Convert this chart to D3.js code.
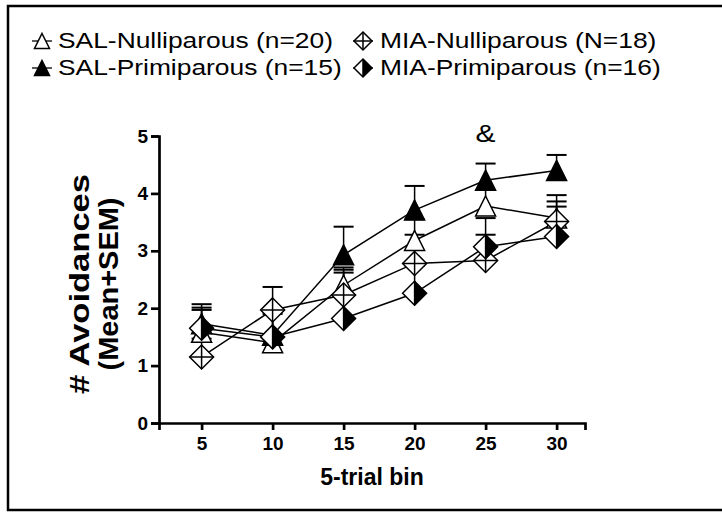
<!DOCTYPE html>
<html>
<head>
<meta charset="utf-8">
<script src="https://cdn.jsdelivr.net/npm/d3@7"></script>
<style>
  body { margin: 0; background: #fff; }
  svg { display: block; font-family: "Liberation Sans", Arial, sans-serif; }
</style>
</head>
<body>
<script>
// 5-trial bins and group means / SEM
const bins = [5, 10, 15, 20, 25, 30];

const salNulliMean = [1.58, 1.40, 2.40, 3.18, 3.78, 3.57];
const salNulliSem  = [0.43, 0.54, 0.31, 0.37, 0.28, 0.40];
const salPrimiMean = [1.73, 1.53, 2.93, 3.71, 4.23, 4.40];
const salPrimiSem  = [0.34, 0.45, 0.49, 0.42, 0.29, 0.27];
const miaNulliMean = [1.15, 1.97, 2.23, 2.78, 2.83, 3.51];
const miaNulliSem  = [0.32, 0.40, 0.44, 0.50, 0.45, 0.35];
const miaPrimiMean = [1.65, 1.50, 1.82, 2.26, 3.07, 3.25];
const miaPrimiSem  = [0.32, 0.40, 0.80, 0.48, 0.50, 0.52];

const seriesNames = ['SAL-Nulliparous (n=20)', 'SAL-Primiparous (n=15)',
                     'MIA-Nulliparous (N=18)', 'MIA-Primiparous (n=16)'];
const yTicks = [0, 1, 2, 3, 4, 5];

const width = 722;
const height = 512;

const series = [
    { name: seriesNames[0], mean: salNulliMean, sem: salNulliSem, shape: 'triOpen' },
    { name: seriesNames[1], mean: salPrimiMean, sem: salPrimiSem, shape: 'triFilled' },
    { name: seriesNames[2], mean: miaNulliMean, sem: miaNulliSem, shape: 'diaCross' },
    { name: seriesNames[3], mean: miaPrimiMean, sem: miaPrimiSem, shape: 'diaHalf' }
];

const x = d3.scaleLinear().domain([2, 32]).range([159, 585]);
const y = d3.scaleLinear().domain([0, 5]).range([423, 136]);

const svg = d3.select('body')
    .append('svg')
    .attr('width', width)
    .attr('height', height);

// outer frame
svg.append('rect')
    .attr('x', 8)
    .attr('y', 6)
    .attr('width', 730)
    .attr('height', 504)
    .attr('fill', 'none')
    .attr('stroke', '#000')
    .attr('stroke-width', 2.5);

// draws one marker into group g, scaled by s
function marker(g, shape, s) {
    const t = 10 * s, d = 12 * s;
    if (shape === 'triOpen' || shape === 'triFilled') {
        g.append('path')
            .attr('d', `M0,${-t}L${t},${t}L${-t},${t}Z`)
            .attr('fill', shape === 'triFilled' ? '#000' : '#fff')
            .attr('stroke', '#000')
            .attr('stroke-width', 1.5);
    } else {
        g.append('path')
            .attr('d', `M0,${-d}L${d},0L0,${d}L${-d},0Z`)
            .attr('fill', '#fff')
            .attr('stroke', '#000')
            .attr('stroke-width', 1.5);
        if (shape === 'diaHalf') {
            g.append('path')
                .attr('d', `M0,${-d}L${d},0L0,${d}Z`)
                .attr('fill', '#000');
            g.append('path')
                .attr('d', `M0,${-d}V${d}`)
                .attr('stroke', '#000')
                .attr('stroke-width', 1.5);
        } else {
            g.append('path')
                .attr('d', `M0,${-d}V${d}M${-d},0H${d}`)
                .attr('stroke', '#000')
                .attr('stroke-width', 1.5);
        }
    }
}

const line = d3.line()
    .x((d) => x(d[0]))
    .y((d) => y(d[1]));

// connecting lines
series.forEach((s) => {
    svg.append('path')
        .datum(bins.map((b, i) => [b, s.mean[i]]))
        .attr('d', line)
        .attr('fill', 'none')
        .attr('stroke', '#000')
        .attr('stroke-width', 1.5);
});

// error bars (mean + SEM)
series.forEach((s) => {
    const eb = svg.append('g');
    bins.forEach((b, i) => {
        const top = y(s.mean[i] + s.sem[i]);
        eb.append('line')
            .attr('x1', x(b)).attr('x2', x(b))
            .attr('y1', y(s.mean[i])).attr('y2', top)
            .attr('stroke', '#000').attr('stroke-width', 1.5);
        eb.append('line')
            .attr('x1', x(b) - 10).attr('x2', x(b) + 10)
            .attr('y1', top).attr('y2', top)
            .attr('stroke', '#000').attr('stroke-width', 2);
    });
});

// markers
series.forEach((s) => {
    bins.forEach((b, i) => {
        const g = svg.append('g')
            .attr('transform', `translate(${x(b)},${y(s.mean[i])})`);
        marker(g, s.shape, 1);
    });
});

// axes
const xAxis = d3.axisBottom(x)
    .tickValues(bins)
    .tickSizeOuter(0)
    .tickSize(7)
    .tickPadding(7);

const yAxis = d3.axisLeft(y)
    .tickValues(yTicks)
    .tickFormat(d3.format('d'))
    .tickSizeOuter(0)
    .tickSize(8)
    .tickPadding(3);

const gx = svg.append('g')
    .attr('transform', 'translate(0,423)')
    .call(xAxis);

const gy = svg.append('g')
    .attr('transform', 'translate(159,0)')
    .call(yAxis);

[gx, gy].forEach((g) => {
    g.select('.domain').attr('stroke-width', 2.7);
    g.selectAll('.tick line').attr('stroke-width', 2.7);
    g.selectAll('.tick text')
        .attr('font-family', '"Liberation Sans", Arial, sans-serif')
        .attr('font-size', 19)
        .attr('font-weight', 'bold')
        .attr('fill', '#000');
});

// axis titles
svg.append('text')
    .attr('x', 372)
    .attr('y', 485)
    .attr('text-anchor', 'middle')
    .attr('font-size', 23)
    .attr('font-weight', 'bold')
    .text('5-trial bin');

const yTitle = svg.append('g')
    .attr('transform', 'translate(0,284) rotate(-90)');

yTitle.append('text')
    .attr('x', 0)
    .attr('y', 89)
    .attr('text-anchor', 'middle')
    .attr('font-size', 27)
    .attr('font-weight', 'bold')
    .attr('textLength', 220)
    .attr('lengthAdjust', 'spacingAndGlyphs')
    .text('# Avoidances');

yTitle.append('text')
    .attr('x', 0)
    .attr('y', 118)
    .attr('text-anchor', 'middle')
    .attr('font-size', 27)
    .attr('font-weight', 'bold')
    .attr('textLength', 173)
    .attr('lengthAdjust', 'spacingAndGlyphs')
    .text('(Mean+SEM)');

// significance mark at bin 25
svg.append('text')
    .attr('transform', `translate(${x(25)},142) scale(1.25,1)`)
    .attr('text-anchor', 'middle')
    .attr('font-size', 24)
    .text('&');

// legend
const legendPos = [
    { sx: 42, sy: 41, tx: 58, ty: 47.5 },
    { sx: 42, sy: 68, tx: 58, ty: 74.5 },
    { sx: 363, sy: 41, tx: 380, ty: 47.5 },
    { sx: 363, sy: 68, tx: 380, ty: 74.5 }
];

series.forEach((s, i) => {
    const p = legendPos[i];
    const g = svg.append('g')
        .attr('transform', `translate(${p.sx},${p.sy})`);
    g.append('line')
        .attr('x1', -10).attr('x2', 10)
        .attr('stroke', '#000').attr('stroke-width', 1.3);
    marker(g, s.shape, 0.75);
    svg.append('text')
        .attr('transform', `translate(${p.tx},${p.ty}) scale(1.2,1)`)
        .attr('font-size', 22)
        .text(s.name);
});
</script>
</body>
</html>
